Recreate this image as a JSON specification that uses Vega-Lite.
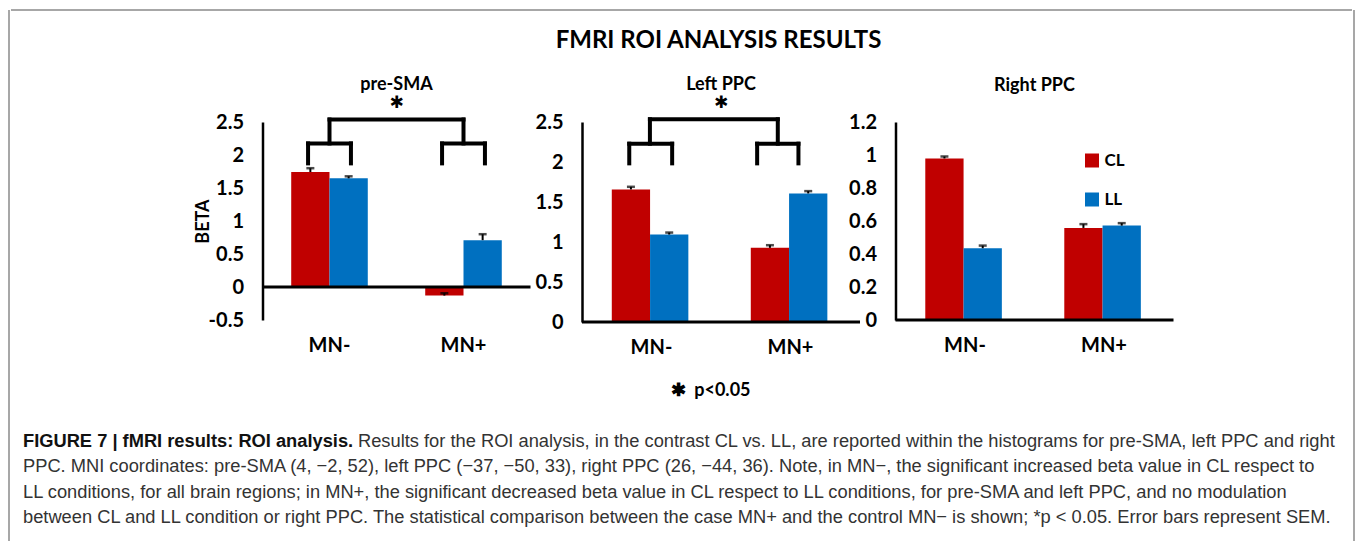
{
  "$schema": "https://vega.github.io/schema/vega-lite/v6.json",
  "background": "white",
  "padding": {"left": 8, "top": 9, "right": 0, "bottom": 0},
  "config": {
    "font": "Lato",
    "view": {"stroke": null},
    "title": {"font": "Lato", "fontWeight": "bold", "color": "black", "fontSize": 18},
    "axis": {"labelFont": "Lato", "titleFont": "Lato", "labelColor": "black", "titleColor": "black", "labelFontWeight": "bold", "titleFontWeight": "bold", "grid": false, "ticks": false, "tickSize": 0, "domainColor": "black", "labelOverlap": false, "labelFlush": false}
  },
  "datasets": {
    "bars": [
      {"region": "pre-SMA", "group": "MN-", "cond": "CL", "beta": 1.742, "upper": 1.8},
      {"region": "pre-SMA", "group": "MN-", "cond": "LL", "beta": 1.646, "upper": 1.677},
      {"region": "pre-SMA", "group": "MN+", "cond": "CL", "beta": -0.13, "upper": -0.095},
      {"region": "pre-SMA", "group": "MN+", "cond": "LL", "beta": 0.71, "upper": 0.8},
      {"region": "Left PPC", "group": "MN-", "cond": "CL", "beta": 1.657, "upper": 1.69},
      {"region": "Left PPC", "group": "MN-", "cond": "LL", "beta": 1.093, "upper": 1.118},
      {"region": "Left PPC", "group": "MN+", "cond": "CL", "beta": 0.927, "upper": 0.96},
      {"region": "Left PPC", "group": "MN+", "cond": "LL", "beta": 1.607, "upper": 1.636},
      {"region": "Right PPC", "group": "MN-", "cond": "CL", "beta": 0.979, "upper": 0.991},
      {"region": "Right PPC", "group": "MN-", "cond": "LL", "beta": 0.435, "upper": 0.451},
      {"region": "Right PPC", "group": "MN+", "cond": "CL", "beta": 0.558, "upper": 0.581},
      {"region": "Right PPC", "group": "MN+", "cond": "LL", "beta": 0.572, "upper": 0.587}
    ],
    "brackets": [
      {"region": "pre-SMA", "group": "MN-", "partner": "MN+", "low": 1.873, "mid": 2.175, "top": 2.538, "star": 2.79},
      {"region": "pre-SMA", "group": "MN+", "partner": "MN-", "low": 1.873, "mid": 2.175, "top": 2.538, "star": 2.79},
      {"region": "Left PPC", "group": "MN-", "partner": "MN+", "low": 1.983, "mid": 2.229, "top": 2.534, "star": 2.743},
      {"region": "Left PPC", "group": "MN+", "partner": "MN-", "low": 1.983, "mid": 2.229, "top": 2.534, "star": 2.743}
    ],
    "caption": [
      {"line": 1, "bold": "FIGURE 7 | fMRI results: ROI analysis.", "text": "Results for the ROI analysis, in the contrast CL vs. LL, are reported within the histograms for pre-SMA, left PPC and right"},
      {"line": 2, "bold": "", "text": "PPC. MNI coordinates: pre-SMA (4, −2, 52), left PPC (−37, −50, 33), right PPC (26, −44, 36). Note, in MN−, the significant increased beta value in CL respect to"},
      {"line": 3, "bold": "", "text": "LL conditions, for all brain regions; in MN+, the significant decreased beta value in CL respect to LL conditions, for pre-SMA and left PPC, and no modulation"},
      {"line": 4, "bold": "", "text": "between CL and LL condition or right PPC. The statistical comparison between the case MN+ and the control MN− is shown; *p < 0.05. Error bars represent SEM."}
    ]
  },
  "spacing": 0,
  "hconcat": [
    {
      "width": 1, "height": 531,
      "data": {"values": [{"edge": "left"}]},
      "mark": {"type": "rule", "color": "#8a8a8a", "strokeWidth": 1.5},
      "encoding": {"x": {"datum": 0, "type": "quantitative", "scale": {"domain": [0, 1]}, "axis": null}}
    },
    {
      "spacing": 22,
      "vconcat": [
        {
          "width": 1341, "height": 1,
          "title": {"text": "FMRI ROI ANALYSIS RESULTS", "fontSize": 24, "orient": "bottom", "anchor": "middle", "frame": "group", "dx": 37, "offset": 18, "baseline": "top"},
          "data": {"values": [{"edge": "top"}]},
          "mark": {"type": "rule", "color": "#8a8a8a", "strokeWidth": 1.5},
          "encoding": {"y": {"datum": 1, "type": "quantitative", "scale": {"domain": [0, 1]}, "axis": null}}
        },
        {
          "spacing": 30,
          "vconcat": [
            {
              "spacing": 2.5,
              "resolve": {"scale": {"color": "independent"}, "legend": {"color": "independent"}},
              "hconcat": [
                {"width": 180, "height": 10, "data": {"values": [{"s": 1}]}, "mark": {"type": "text", "text": ""}, "encoding": {}},
                {
                  "width": 268,
                  "height": 198,
                  "title": {"text": "pre-SMA", "offset": 0, "anchor": "middle", "frame": "group"},
                  "layer": [
                    {
                      "data": {"name": "bars"},
                      "transform": [{"filter": "datum.region === 'pre-SMA'"}],
                      "encoding": {
                        "x": {"field": "group", "type": "nominal", "sort": ["MN-", "MN+"], "scale": {"domain": ["MN-", "MN+"], "paddingInner": 0.4286, "paddingOuter": 0.2143}, "axis": {"title": null, "labelAngle": 0, "domain": false, "labelFontSize": 20, "labelPadding": 15, "labelOverlap": false}},
                        "xOffset": {"field": "cond", "type": "nominal", "sort": ["CL", "LL"], "scale": {"domain": ["CL", "LL"], "paddingInner": 0, "paddingOuter": 0}}
                      },
                      "layer": [
                        {"mark": {"type": "bar"}, "encoding": {
                          "y": {"field": "beta", "type": "quantitative", "scale": {"domain": [-0.5, 2.5], "nice": false}, "axis": {"values": [-0.5, 0, 0.5, 1, 1.5, 2, 2.5], "tickCount": 12, "labelExpr": "'' + datum.value", "labelOverlap": false, "labelFlush": false, "title": "BETA", "titleFontSize": 18, "titlePadding": -4, "labelFontSize": 20, "labelPadding": 19, "domainWidth": 2.5}},
                          "color": {"field": "cond", "type": "nominal", "scale": {"domain": ["CL", "LL"], "range": ["#C00000", "#0070C0"]}, "legend": null}}},
                        {"mark": {"type": "rule", "color": "black", "strokeWidth": 2}, "encoding": {"y": {"field": "beta", "type": "quantitative"}, "y2": {"field": "upper"}}},
                        {"mark": {"type": "tick", "color": "black", "size": 8, "thickness": 2.5}, "encoding": {"y": {"field": "upper", "type": "quantitative"}}}
                      ]
                    },
                    {"data": {"values": [{"z": 0}]}, "mark": {"type": "rule", "color": "black", "strokeWidth": 3}, "encoding": {"y": {"datum": 0, "type": "quantitative"}}},
                    {
                      "data": {"name": "brackets"},
                      "transform": [{"filter": "datum.region === 'pre-SMA'"}],
                      "layer": [
                        {"mark": {"type": "rule", "color": "black", "strokeWidth": 4, "strokeCap": "square"}, "encoding": {"x": {"field": "group", "type": "nominal", "sort": ["MN-", "MN+"], "bandPosition": 0.22}, "y": {"field": "low", "type": "quantitative"}, "y2": {"field": "mid"}}},
                        {"mark": {"type": "rule", "color": "black", "strokeWidth": 4, "strokeCap": "square"}, "encoding": {"x": {"field": "group", "type": "nominal", "sort": ["MN-", "MN+"], "bandPosition": 0.78}, "y": {"field": "low", "type": "quantitative"}, "y2": {"field": "mid"}}},
                        {"mark": {"type": "rule", "color": "black", "strokeWidth": 4, "strokeCap": "square"}, "encoding": {"x": {"field": "group", "type": "nominal", "sort": ["MN-", "MN+"], "bandPosition": 0.22}, "x2": {"field": "group", "bandPosition": 0.78}, "y": {"field": "mid", "type": "quantitative"}}},
                        {"mark": {"type": "rule", "color": "black", "strokeWidth": 4, "strokeCap": "square"}, "encoding": {"x": {"field": "group", "type": "nominal", "sort": ["MN-", "MN+"], "bandPosition": 0.5}, "y": {"field": "mid", "type": "quantitative"}, "y2": {"field": "top"}}},
                        {"transform": [{"filter": "datum.group === 'MN-'"}], "mark": {"type": "rule", "color": "black", "strokeWidth": 4, "strokeCap": "square"}, "encoding": {"x": {"field": "group", "type": "nominal", "sort": ["MN-", "MN+"], "bandPosition": 0.5}, "x2": {"field": "partner", "bandPosition": 0.5}, "y": {"field": "top", "type": "quantitative"}}},
                        {"transform": [{"filter": "datum.group === 'MN-'"}], "mark": {"type": "text", "text": "✱", "font": "DejaVu Sans", "fontSize": 17, "color": "black", "baseline": "middle"}, "encoding": {"y": {"field": "star", "type": "quantitative"}}}
                      ]
                    }
                  ]
                },
                {
                  "spacing": -13.5,
                  "resolve": {"scale": {"color": "independent"}, "legend": {"color": "independent"}},
                  "hconcat": [
                    {
                      "width": 278,
                      "height": 200,
                      "title": {"text": "Left PPC", "offset": 0, "anchor": "middle", "frame": "group"},
                      "layer": [
                        {
                          "data": {"name": "bars"},
                          "transform": [{"filter": "datum.region === 'Left PPC'"}],
                          "encoding": {
                            "x": {"field": "group", "type": "nominal", "sort": ["MN-", "MN+"], "scale": {"domain": ["MN-", "MN+"], "paddingInner": 0.4286, "paddingOuter": 0.2143}, "axis": {"title": "✱\u00a0\u00a0p<0.05", "titleFontSize": 18, "titlePadding": 24, "titleX": 128, "labelAngle": 0, "domain": false, "labelFontSize": 20, "labelPadding": 15, "labelOverlap": false}},
                            "xOffset": {"field": "cond", "type": "nominal", "sort": ["CL", "LL"], "scale": {"domain": ["CL", "LL"], "paddingInner": 0, "paddingOuter": 0}}
                          },
                          "layer": [
                            {"mark": {"type": "bar"}, "encoding": {
                              "y": {"field": "beta", "type": "quantitative", "scale": {"domain": [0, 2.5], "nice": false}, "axis": {"values": [0, 0.5, 1, 1.5, 2, 2.5], "tickCount": 12, "labelExpr": "'' + datum.value", "labelOverlap": false, "labelFlush": false, "title": null, "labelFontSize": 20, "labelPadding": 19, "domainWidth": 2.5}},
                              "color": {"field": "cond", "type": "nominal", "scale": {"domain": ["CL", "LL"], "range": ["#C00000", "#0070C0"]}, "legend": null}}},
                            {"mark": {"type": "rule", "color": "black", "strokeWidth": 2}, "encoding": {"y": {"field": "beta", "type": "quantitative"}, "y2": {"field": "upper"}}},
                            {"mark": {"type": "tick", "color": "black", "size": 8, "thickness": 2.5}, "encoding": {"y": {"field": "upper", "type": "quantitative"}}}
                          ]
                        },
                        {"data": {"values": [{"z": 0}]}, "mark": {"type": "rule", "color": "black", "strokeWidth": 3}, "encoding": {"y": {"datum": 0, "type": "quantitative"}}},
                        {
                          "data": {"name": "brackets"},
                          "transform": [{"filter": "datum.region === 'Left PPC'"}],
                          "layer": [
                            {
                              "transform": [{"filter": "datum.group === 'MN-'"}],
                              "layer": [
                                {"mark": {"type": "rule", "color": "black", "strokeWidth": 4, "strokeCap": "square"}, "encoding": {"x": {"field": "group", "type": "nominal", "sort": ["MN-", "MN+"], "bandPosition": 0.22}, "y": {"field": "low", "type": "quantitative"}, "y2": {"field": "mid"}}},
                                {"mark": {"type": "rule", "color": "black", "strokeWidth": 4, "strokeCap": "square"}, "encoding": {"x": {"field": "group", "type": "nominal", "sort": ["MN-", "MN+"], "bandPosition": 0.76}, "y": {"field": "low", "type": "quantitative"}, "y2": {"field": "mid"}}},
                                {"mark": {"type": "rule", "color": "black", "strokeWidth": 4, "strokeCap": "square"}, "encoding": {"x": {"field": "group", "type": "nominal", "sort": ["MN-", "MN+"], "bandPosition": 0.22}, "x2": {"field": "group", "bandPosition": 0.76}, "y": {"field": "mid", "type": "quantitative"}}},
                                {"mark": {"type": "rule", "color": "black", "strokeWidth": 4, "strokeCap": "square"}, "encoding": {"x": {"field": "group", "type": "nominal", "sort": ["MN-", "MN+"], "bandPosition": 0.48}, "y": {"field": "mid", "type": "quantitative"}, "y2": {"field": "top"}}},
                                {"mark": {"type": "rule", "color": "black", "strokeWidth": 4, "strokeCap": "square"}, "encoding": {"x": {"field": "group", "type": "nominal", "sort": ["MN-", "MN+"], "bandPosition": 0.48}, "x2": {"field": "partner", "bandPosition": 0.34}, "y": {"field": "top", "type": "quantitative"}}},
                                {"mark": {"type": "text", "text": "✱", "font": "DejaVu Sans", "fontSize": 17, "color": "black", "baseline": "middle"}, "encoding": {"y": {"field": "star", "type": "quantitative"}}}
                              ]
                            },
                            {
                              "transform": [{"filter": "datum.group === 'MN+'"}],
                              "layer": [
                                {"mark": {"type": "rule", "color": "black", "strokeWidth": 4, "strokeCap": "square"}, "encoding": {"x": {"field": "group", "type": "nominal", "sort": ["MN-", "MN+"], "bandPosition": 0.08}, "y": {"field": "low", "type": "quantitative"}, "y2": {"field": "mid"}}},
                                {"mark": {"type": "rule", "color": "black", "strokeWidth": 4, "strokeCap": "square"}, "encoding": {"x": {"field": "group", "type": "nominal", "sort": ["MN-", "MN+"], "bandPosition": 0.6}, "y": {"field": "low", "type": "quantitative"}, "y2": {"field": "mid"}}},
                                {"mark": {"type": "rule", "color": "black", "strokeWidth": 4, "strokeCap": "square"}, "encoding": {"x": {"field": "group", "type": "nominal", "sort": ["MN-", "MN+"], "bandPosition": 0.08}, "x2": {"field": "group", "bandPosition": 0.6}, "y": {"field": "mid", "type": "quantitative"}}},
                                {"mark": {"type": "rule", "color": "black", "strokeWidth": 4, "strokeCap": "square"}, "encoding": {"x": {"field": "group", "type": "nominal", "sort": ["MN-", "MN+"], "bandPosition": 0.34}, "y": {"field": "mid", "type": "quantitative"}, "y2": {"field": "top"}}}
                              ]
                            }
                          ]
                        }
                      ]
                    },
                    {
                      "width": 278,
                      "height": 198,
                      "title": {"text": "Right PPC", "offset": 17, "anchor": "middle", "frame": "group"},
                      "layer": [
                        {
                          "data": {"name": "bars"},
                          "transform": [{"filter": "datum.region === 'Right PPC'"}],
                          "encoding": {
                            "x": {"field": "group", "type": "nominal", "sort": ["MN-", "MN+"], "scale": {"domain": ["MN-", "MN+"], "paddingInner": 0.4286, "paddingOuter": 0.2143}, "axis": {"title": null, "labelAngle": 0, "domain": false, "labelFontSize": 20, "labelPadding": 15, "labelOverlap": false}},
                            "xOffset": {"field": "cond", "type": "nominal", "sort": ["CL", "LL"], "scale": {"domain": ["CL", "LL"], "paddingInner": 0, "paddingOuter": 0}}
                          },
                          "layer": [
                            {"mark": {"type": "bar"}, "encoding": {
                              "y": {"field": "beta", "type": "quantitative", "scale": {"domain": [0, 1.2], "nice": false}, "axis": {"values": [0, 0.2, 0.4, 0.6, 0.8, 1, 1.2], "tickCount": 12, "labelExpr": "'' + datum.value", "labelOverlap": false, "labelFlush": false, "title": null, "labelFontSize": 20, "labelPadding": 19, "domainWidth": 2.5}},
                              "color": {"field": "cond", "type": "nominal", "scale": {"domain": ["CL", "LL"], "range": ["#C00000", "#0070C0"]}, "legend": {"title": null, "orient": "none", "direction": "vertical", "legendX": 188, "legendY": 30, "padding": 0, "symbolType": "square", "symbolSize": 196, "symbolStrokeWidth": 0, "symbolOpacity": 1, "labelFont": "Lato", "labelFontSize": 17, "labelFontWeight": "bold", "labelColor": "black", "labelOffset": 4, "rowPadding": 21}}}},
                            {"mark": {"type": "rule", "color": "black", "strokeWidth": 2}, "encoding": {"y": {"field": "beta", "type": "quantitative"}, "y2": {"field": "upper"}}},
                            {"mark": {"type": "tick", "color": "black", "size": 8, "thickness": 2.5}, "encoding": {"y": {"field": "upper", "type": "quantitative"}}}
                          ]
                        },
                        {"data": {"values": [{"z": 0}]}, "mark": {"type": "rule", "color": "black", "strokeWidth": 3}, "encoding": {"y": {"datum": 0, "type": "quantitative"}}}
                      ]
                    }
                  ]
                }
              ]
            },
            {
              "width": 1341,
              "height": 102,
              "data": {"name": "caption"},
              "encoding": {
                "y": {"field": "line", "type": "ordinal", "axis": null},
                "x": {"datum": 0, "type": "quantitative", "scale": {"domain": [0, 1]}, "axis": null}
              },
              "layer": [
                {"transform": [{"filter": "datum.line === 1"}], "mark": {"type": "text", "align": "left", "baseline": "middle", "dx": 12, "font": "Liberation Sans", "fontSize": 18.3, "fontWeight": "bold", "color": "#111111"}, "encoding": {"text": {"field": "bold"}}},
                {"transform": [{"filter": "datum.line === 1"}], "mark": {"type": "text", "align": "left", "baseline": "middle", "dx": 347, "font": "Liberation Sans", "fontSize": 18.3, "color": "#333333"}, "encoding": {"text": {"field": "text"}}},
                {"transform": [{"filter": "datum.line > 1"}], "mark": {"type": "text", "align": "left", "baseline": "middle", "dx": 12, "font": "Liberation Sans", "fontSize": 18.3, "color": "#333333"}, "encoding": {"text": {"field": "text"}}}
              ]
            }
          ]
        }
      ]
    },
    {
      "width": 1, "height": 531,
      "data": {"values": [{"edge": "right"}]},
      "mark": {"type": "rule", "color": "#8a8a8a", "strokeWidth": 1.5},
      "encoding": {"x": {"datum": 0, "type": "quantitative", "scale": {"domain": [0, 1]}, "axis": null}}
    }
  ]
}
